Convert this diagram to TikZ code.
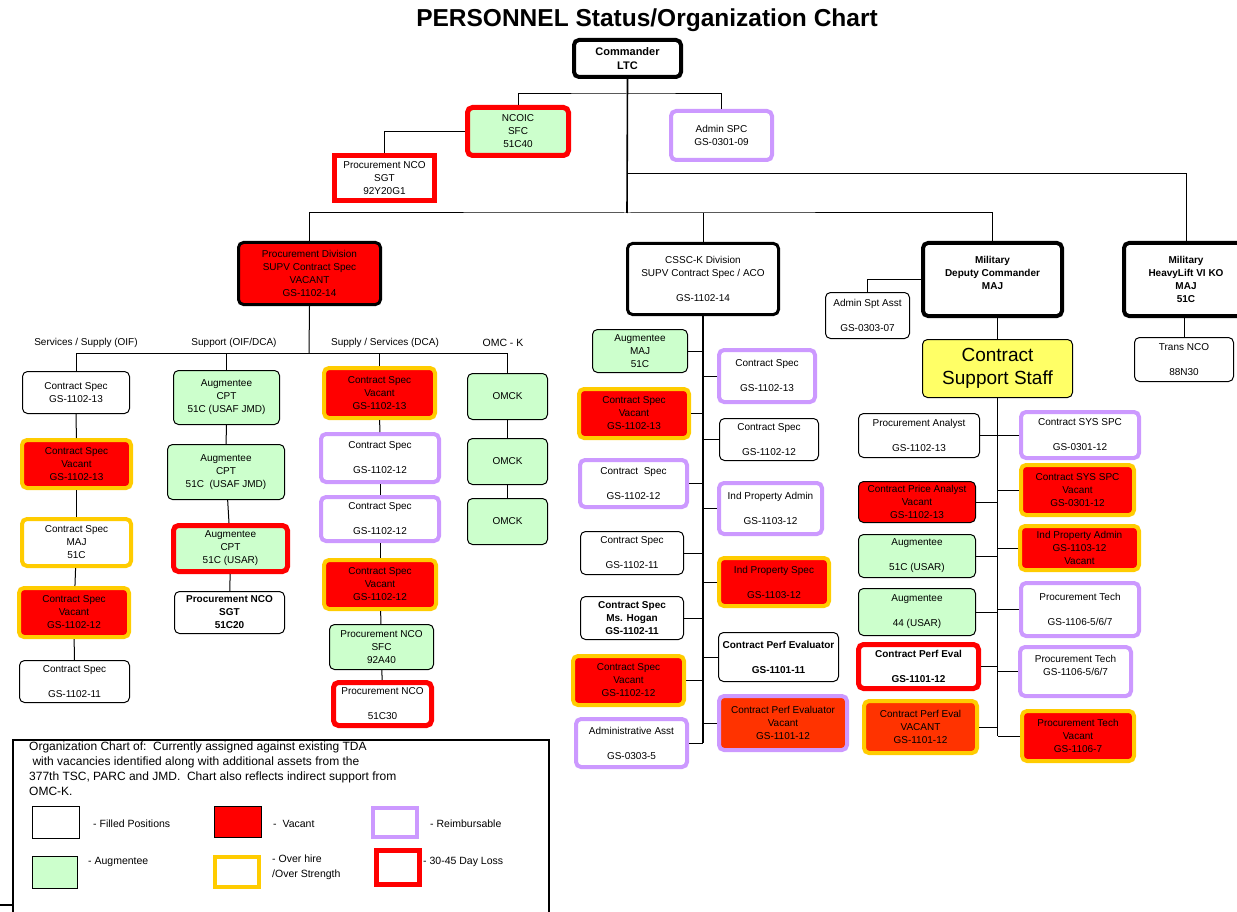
\documentclass[tikz,border=0pt]{standalone}
\usepackage{fontspec}
\setmainfont{Liberation Sans}

\definecolor{vacred}{RGB}{255,0,0}
\definecolor{vacorange}{RGB}{255,51,0}
\definecolor{auggreen}{RGB}{204,255,204}
\definecolor{reimbpurple}{RGB}{204,153,255}
\definecolor{overgold}{RGB}{255,204,0}
\definecolor{cssyellow}{RGB}{255,255,102}

\tikzset{
  posbox/.style={draw=black, line width=1pt, rounded corners=5pt, fill=white,
    align=center, inner sep=1pt, font=\fontsize{10}{13}\selectfont},
  dims/.style 2 args={minimum width=#1, minimum height=#2},
  vacant/.style={posbox, fill=vacred},
  augm/.style={posbox, fill=auggreen},
  reimb/.style={posbox, draw=reimbpurple, line width=4pt},
  overhire/.style={posbox, draw=overgold, line width=4pt, fill=vacred},
  dayloss/.style={posbox, draw=vacred, line width=5pt},
  lead/.style={posbox, line width=3.5pt, font=\fontsize{10}{13}\selectfont\bfseries},
  swatch/.style={draw=black, line width=1pt, fill=white},
  note/.style={font=\fontsize{10.5}{15}\selectfont, align=left, anchor=west, inner sep=0pt},
  link/.style={line width=1pt},
  spine/.style={line width=1.6pt},
}

\begin{document}
\begin{tikzpicture}[x=1pt,y=-1pt]
\useasboundingbox (0,0) rectangle (1237,912);
\node[font=\fontsize{24.5}{28}\selectfont\bfseries] (title) at (647,20) {PERSONNEL Status/Organization Chart};

	% command group
	\node[lead,dims={107}{37},line width=4pt,font=\fontsize{11}{14}\selectfont\bfseries] (cmd) at (627.5,58.5) {Commander\\LTC};
	\node[dayloss,fill=auggreen,dims={101}{48}] (ncoic) at (518,131.5) {NCOIC\\SFC\\51C40};
	\node[dayloss,rounded corners=0pt,dims={100}{45}] (procnco) at (384.5,178) {Procurement NCO\\SGT\\92Y20G1};
	\node[reimb,dims={101}{49}] (adminspc) at (721.5,135.5) {Admin SPC\\GS-0301-09};
	\coordinate (nbus) at (627,94);
	\coordinate (hbus) at (627,174);
	\coordinate (mbus) at (627,213);

	% divisions
	\node[lead,fill=vacred,line width=3pt,font=\fontsize{10}{13}\selectfont,dims={142}{62}] (procdiv) at (309.5,273.5) {Procurement Division\\SUPV Contract Spec\\VACANT\\GS-1102-14};
	\node[lead,line width=3pt,font=\fontsize{10}{13}\selectfont,dims={151}{71}] (cssc) at (703,279) {CSSC-K Division\\SUPV Contract Spec / ACO\\[12pt]GS-1102-14};
	\node[lead,line width=4pt,dims={139}{73}] (deputy) at (992.5,279.5) {Military\\Deputy Commander\\MAJ\\\mbox{}};
	\node[lead,line width=4pt,dims={124}{73}] (heavy) at (1186,279.5) {Military\\HeavyLift VI KO\\MAJ\\51C};
	\node[posbox,dims={99}{44}] (trans) at (1184,359.5) {Trans NCO\\[12pt]88N30};
	\node[posbox,dims={84}{46}] (adminspt) at (867.5,315.5) {Admin Spt Asst\\[12pt]GS-0303-07};
	\node[posbox,fill=cssyellow,dims={150}{58},font=\fontsize{19}{23}\selectfont] (css) at (997.5,368.5) {Contract\\Support Staff};

	% procurement division columns
	\coordinate (pbus) at (309,353);
	\node[note,anchor=center,font=\fontsize{10}{13}\selectfont] (lab1) at (86,343) {Services / Supply (OIF)};
	\node[note,anchor=center,font=\fontsize{10}{13}\selectfont] (lab2) at (234,343) {Support (OIF/DCA)};
	\node[note,anchor=center,font=\fontsize{10}{13}\selectfont] (lab3) at (385,343) {Supply / Services (DCA)};
	\node[note,anchor=center,font=\fontsize{10.5}{13}\selectfont] (lab4) at (503,343) {OMC - K};

	\node[posbox,dims={107}{42}] (c1a) at (76,392.5) {Contract Spec\\GS-1102-13};
	\node[overhire,dims={109}{48}] (c1b) at (76.5,464) {Contract Spec\\Vacant\\GS-1102-13};
	\node[overhire,fill=white,dims={109}{47}] (c1c) at (76.5,542.5) {Contract Spec\\MAJ\\51C};
	\node[overhire,dims={110}{49}] (c1d) at (74,612.5) {Contract Spec\\Vacant\\GS-1102-12};
	\node[posbox,dims={110}{42}] (c1e) at (74.5,681.5) {Contract Spec\\[12pt]GS-1102-11};

	\node[augm,dims={106}{54}] (c2a) at (226.5,397.5) {Augmentee\\CPT\\51C (USAF JMD)};
	\node[augm,dims={117}{55}] (c2b) at (226,472) {Augmentee\\CPT\\51C\ \ (USAF JMD)};
	\node[dayloss,fill=auggreen,dims={114}{46}] (c2c) at (230.5,548.5) {Augmentee\\CPT\\51C (USAR)};
	\node[posbox,dims={110}{42},font=\fontsize{10}{13}\selectfont\bfseries] (c2d) at (229.5,612.5) {Procurement NCO\\SGT\\51C20};

	\node[overhire,dims={111}{50}] (c3a) at (379.5,393) {Contract Spec\\Vacant\\GS-1102-13};
	\node[reimb,dims={118}{48}] (c3b) at (380,458) {Contract Spec\\[12pt]GS-1102-12};
	\node[reimb,dims={118}{44}] (c3c) at (380,519) {Contract Spec\\[12pt]GS-1102-12};
	\node[overhire,dims={112}{49}] (c3d) at (380,584.5) {Contract Spec\\Vacant\\GS-1102-12};
	\node[augm,dims={104}{45}] (c3e) at (381.5,647) {Procurement NCO\\SFC\\92A40};
	\node[dayloss,dims={98}{43}] (c3f) at (382.5,704) {Procurement NCO\\[12pt]51C30};

	\node[augm,dims={80}{46}] (c4a) at (507.5,396.5) {OMCK};
	\node[augm,dims={80}{46}] (c4b) at (507.5,461.5) {OMCK};
	\node[augm,dims={80}{46}] (c4c) at (507.5,521.5) {OMCK};

	% CSSC-K division
	\node[augm,dims={95}{43}] (l1) at (640,351) {Augmentee\\MAJ\\51C};
	\node[overhire,dims={110}{49}] (l2) at (634,413.5) {Contract Spec\\Vacant\\GS-1102-13};
	\node[reimb,dims={107}{47}] (l3) at (633.5,483.5) {Contract\ \ Spec\\[12pt]GS-1102-12};
	\node[posbox,dims={103}{43}] (l4) at (632,553) {Contract Spec\\[12pt]GS-1102-11};
	\node[posbox,dims={103}{43},font=\fontsize{10}{13}\selectfont\bfseries] (l5) at (632,618) {Contract Spec\\Ms. Hogan\\GS-1102-11};
	\node[overhire,dims={111}{49}] (l6) at (628.5,680.5) {Contract Spec\\Vacant\\GS-1102-12};
	\node[reimb,dims={111}{48}] (l7) at (631.5,743) {Administrative Asst\\[12pt]GS-0303-5};

	\node[reimb,dims={96}{52}] (r1) at (767,376) {Contract Spec\\[12pt]GS-1102-13};
	\node[posbox,dims={99}{42}] (r2) at (769,439.5) {Contract Spec\\[12pt]GS-1102-12};
	\node[reimb,dims={103}{51}] (r3) at (770.5,508.5) {Ind Property Admin\\[12pt]GS-1103-12};
	\node[overhire,dims={110}{48}] (r4) at (774,582) {Ind Property Spec\\[12pt]GS-1103-12};
	\node[posbox,dims={120}{49},font=\fontsize{10}{13}\selectfont\bfseries] (r5) at (778.5,657) {Contract Perf Evaluator\\[12pt]GS-1101-11};
	\node[reimb,fill=vacorange,dims={128}{54}] (r6) at (783,723) {Contract Perf Evaluator\\Vacant\\GS-1101-12};

	% contract support staff
	\node[posbox,dims={121}{44}] (s1) at (919,435.5) {Procurement Analyst\\[12pt]GS-1102-13};
	\node[vacant,dims={117}{41}] (s2) at (917,502) {Contract Price Analyst\\Vacant\\GS-1102-13};
	\node[augm,dims={117}{43}] (s3) at (917,556) {Augmentee\\[12pt]51C (USAR)};
	\node[augm,dims={117}{47}] (s4) at (917,612) {Augmentee\\[12pt]44 (USAR)};
	\node[dayloss,dims={120}{44},font=\fontsize{10}{13}\selectfont\bfseries] (s5) at (918.5,666.5) {Contract Perf Eval\\[12pt]GS-1101-12};
	\node[overhire,fill=vacorange,dims={113}{52}] (s6) at (920.5,727) {Contract Perf Eval\\VACANT\\GS-1101-12};

	\node[reimb,dims={118}{46}] (t1) at (1080,435) {Contract SYS SPC\\[12pt]GS-0301-12};
	\node[overhire,dims={113}{50}] (t2) at (1077.5,490) {Contract SYS SPC\\Vacant\\GS-0301-12};
	\node[overhire,dims={119}{44}] (t3) at (1079.5,548) {Ind Property Admin\\GS-1103-12\\Vacant};
	\node[reimb,dims={118}{53}] (t4) at (1080,609.5) {Procurement Tech\\[12pt]GS-1106-5/6/7};
	\node[reimb,dims={111}{49}] (t5) at (1075.5,671.5) {Procurement Tech\\GS-1106-5/6/7\\\mbox{}};
	\node[overhire,dims={112}{50}] (t6) at (1078,736) {Procurement Tech\\Vacant\\GS-1106-7};

	% top connectors
	\draw[spine] (cmd.south) -- (mbus);
	\draw[link] (ncoic.north) |- (nbus) -| (adminspc.north);
	\draw[link] (ncoic.west) -| (procnco.north);
	\draw[link] (hbus) -| (heavy.north);
	\draw[link] (procdiv.north) |- (mbus) -| (deputy.north);
	\draw[link] (cssc.north) -- (cssc.north |- mbus);
	\draw[link] (deputy.west) -| (adminspt.north);
	\draw[link] (css.north) -- (css.north |- deputy.south);
	\draw[link] (trans.north) -- (trans.north |- heavy.south);

	% procurement division
	\draw[link] (procdiv.south) -- (pbus);
	\draw[link] (c1a.north) -- (c1a.north |- pbus) -- (c4a.north |- pbus) -- (c4a.north);
	\draw[link] (c2a.north) -- (c2a.north |- pbus);
	\draw[link] (c3a.north) -- (c3a.north |- pbus);
	\draw[link] (c1a) -- (c1b); \draw[link] (c1b) -- (c1c); \draw[link] (c1c) -- (c1d); \draw[link] (c1d) -- (c1e);
	\draw[link] (c2a) -- (c2b); \draw[link] (c2b) -- (c2c); \draw[link] (c2c) -- (c2d);
	\draw[link] (c3a) -- (c3b); \draw[link] (c3b) -- (c3c); \draw[link] (c3c) -- (c3d);
	\draw[link] (c3d) -- (c3e); \draw[link] (c3e) -- (c3f);
	\draw[link] (c4a) -- (c4b); \draw[link] (c4b) -- (c4c);

	% CSSC-K spine
	\draw[spine] (cssc.south) -- (cssc.south |- l7.east);
	\foreach \n in {l1,l2,l3,l4,l5,l6,l7}
		\draw[link] (\n.east) -- (\n.east -| cssc.south);
	\foreach \n in {r1,r2,r3,r4,r5,r6}
		\draw[link] (\n.west) -- (\n.west -| cssc.south);

	% contract support staff spine
	\draw[spine] (css.south) -- (css.south |- t6.west);
	\foreach \n in {s1,s2,s3,s4,s5,s6}
		\draw[link] (\n.east) -- (\n.east -| css.south);
	\foreach \n in {t1,t2,t3,t4,t5,t6}
		\draw[link] (\n.west) -- (\n.west -| css.south);

	% legend
	\node[draw,line width=2pt,minimum width=536,minimum height=190,anchor=north west,inner sep=0pt] (legend) at (12,739) {};
	\coordinate (stub) at (0,905);
	\draw[line width=1.5pt] (stub) -- (stub -| legend.west);
	\node[note,anchor=north west,font=\fontsize{12}{15}\selectfont] (legtext) at (29,742) {Organization Chart of:\ \ Currently assigned against existing TDA\\
		\ with vacancies identified along with additional assets from the\\
		377th TSC, PARC and JMD.\ \ Chart also reflects indirect support from\\
		OMC-K.};
	\node[swatch,minimum width=47,minimum height=32] (sw1) at (56,822.5) {};
	\node[swatch,fill=vacred,minimum width=47,minimum height=31] (sw2) at (238,822) {};
	\node[swatch,draw=reimbpurple,line width=4pt,minimum width=44,minimum height=29] (sw3) at (395,822.5) {};
	\node[swatch,fill=auggreen,minimum width=45,minimum height=32] (sw4) at (55,872.5) {};
	\node[swatch,draw=overgold,line width=4pt,minimum width=44,minimum height=30] (sw5) at (237,872) {};
	\node[swatch,draw=vacred,line width=5pt,minimum width=43,minimum height=34] (sw6) at (398,867.5) {};
	\node[note] (key1) at (93,824) {- Filled Positions};
	\node[note] (key2) at (273,824) {-\ \ Vacant};
	\node[note] (key3) at (430,824) {- Reimbursable};
	\node[note] (key4) at (88,862) {- Augmentee};
	\node[note,anchor=north west] (key5) at (272,855) {- Over hire\\/Over Strength};
	\node[note] (key6) at (423,862) {- 30-45 Day Loss};
\end{tikzpicture}
\end{document}
